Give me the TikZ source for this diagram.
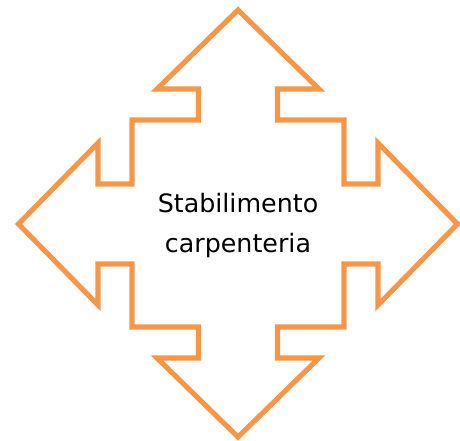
\documentclass[tikz,border=0pt]{standalone}
\usepackage{fontspec}
\setmainfont{DejaVu Sans}
\usepackage{tikz}
\usetikzlibrary{positioning}

\definecolor{accentorange}{HTML}{F79646}

\tikzset{
    quadarrow/.style={draw=accentorange, line width=3.8pt, line join=miter, fill=white},
    label/.style={align=center, font=\fontsize{19pt}{30pt}\selectfont, text=black}
}

\begin{document}
\begin{tikzpicture}[x=0.75pt, y=-0.75pt]

    \useasboundingbox (0,0) rectangle (460,440);

    \draw[quadarrow] (238,10) -- (319,89) -- (277.5,89) -- (277.5,120) -- (344,120)
        -- (344,184) -- (378,184) -- (378,143) -- (457.5,224) -- (378,305)
        -- (378,264) -- (344,264) -- (344,327) -- (277.5,327) -- (277.5,358)
        -- (319,358) -- (238,437) -- (157,358) -- (198.5,358) -- (198.5,327)
        -- (132,327) -- (132,264) -- (98,264) -- (98,305) -- (18.5,224)
        -- (98,143) -- (98,184) -- (132,184) -- (132,120) -- (198.5,120)
        -- (198.5,89) -- (157,89) -- cycle;

    \node[label] (plant) at (238,226) {Stabilimento\\carpenteria};

\end{tikzpicture}
\end{document}
